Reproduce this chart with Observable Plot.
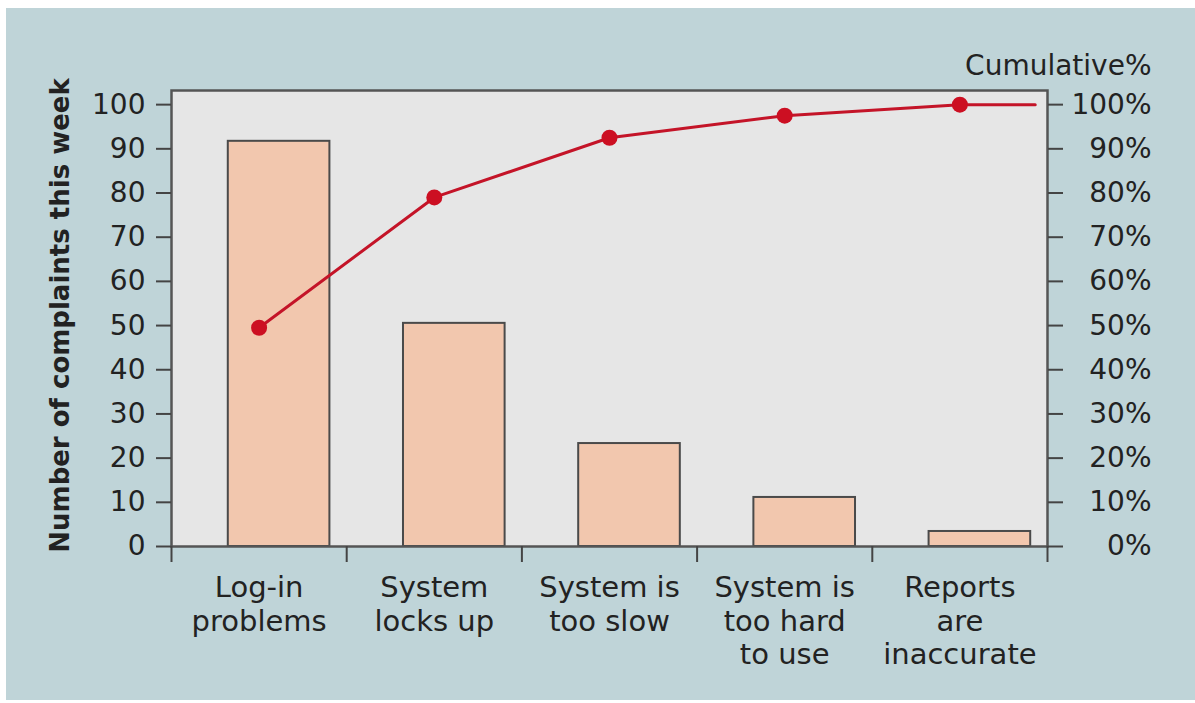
<!DOCTYPE html>
<html>
<head>
<meta charset="utf-8">
<script src="https://cdn.jsdelivr.net/npm/d3@7"></script>
<script src="https://cdn.jsdelivr.net/npm/@observablehq/plot@0.6"></script>
<style>
  html, body { margin: 0; padding: 0; background: #ffffff; }
  #chart { position: absolute; left: 6px; top: 8px; }
</style>
</head>
<body>
<div id="chart"></div>
<script>
// ---- data ----
const categories = ["Log-in\nproblems", "System\nlocks up", "System is\ntoo slow", "System is\ntoo hard\nto use", "Reports\nare\ninaccurate"];
const complaints = [91.7, 50.5, 23.3, 11.1, 3.4];
const cumulativePct = [49.5, 79, 92.5, 97.5, 100];
const leftTicks = [0, 10, 20, 30, 40, 50, 60, 70, 80, 90, 100];
const rightTicks = [0, 10, 20, 30, 40, 50, 60, 70, 80, 90, 100];
const yTitle = "Number of complaints this week";
const rightTitle = "Cumulative%";

// ---- tables built from the arrays ----
const bars = categories.map((c, i) => ({i, c, v: complaints[i]}));
const cum = categories.map((c, i) => ({i, v: cumulativePct[i]}));
const xDomain = [-0.5, categories.length - 0.5];
const line = [...cum, {i: xDomain[1] - 0.07, v: cumulativePct[cumulativePct.length - 1]}];
const boundaries = d3.range(categories.length + 1).map(k => k - 0.5);

const ink = "#222222";
const red = "#c41428";

const chart = Plot.plot({
  width: 1189,
  height: 692,
  marginLeft: 165,
  marginRight: 148,
  marginTop: 82,
  marginBottom: 154,
  style: {background: "#bfd4d8", fontFamily: "'DejaVu Sans', sans-serif", fontSize: "28px", color: ink},
  x: {type: "linear", domain: xDomain},
  y: {domain: [0, 103.2]},
  marks: [
    Plot.frame({fill: "#e6e6e6"}),
    Plot.rectY(bars, {x1: d => d.i - 0.29, x2: d => d.i + 0.29, y1: 0, y2: "v", dx: 20,
      fill: "#f2c7ae", stroke: "#4a4a4a", strokeWidth: 2}),
    Plot.line(line, {x: "i", y: "v", stroke: red, strokeWidth: 3}),
    Plot.dot(cum, {x: "i", y: "v", r: 8, fill: "#cc0f22"}),
    Plot.frame({stroke: "#555555", strokeWidth: 2.5}),
    Plot.axisY(leftTicks, {anchor: "left", tickSize: 15, tickPadding: 11, label: null, strokeWidth: 2, stroke: "#444"}),
    Plot.axisY(rightTicks, {anchor: "right", tickSize: 15, tickPadding: 89, textAnchor: "end",
      tickFormat: d => d + "%", label: null, strokeWidth: 2, stroke: "#444"}),
    Plot.axisX(boundaries, {tickSize: 16, tickFormat: () => "", label: null, strokeWidth: 2, stroke: "#444"}),
    Plot.text(categories, {x: (d, i) => i, text: d => d, frameAnchor: "bottom", lineAnchor: "top",
      dy: 27, lineHeight: 1.15, fontSize: 29, fill: ink}),
    Plot.text([rightTitle], {text: d => d, frameAnchor: "top-right", textAnchor: "end", lineAnchor: "middle",
      dx: 104, dy: -24, fill: ink}),
    Plot.text([yTitle], {text: d => d, frameAnchor: "left", textAnchor: "middle", lineAnchor: "middle",
      rotate: -90, dx: -111, dy: -3, fontWeight: "bold", fontSize: 26, fill: ink})
  ]
});
document.getElementById("chart").appendChild(chart);
</script>
</body>
</html>
